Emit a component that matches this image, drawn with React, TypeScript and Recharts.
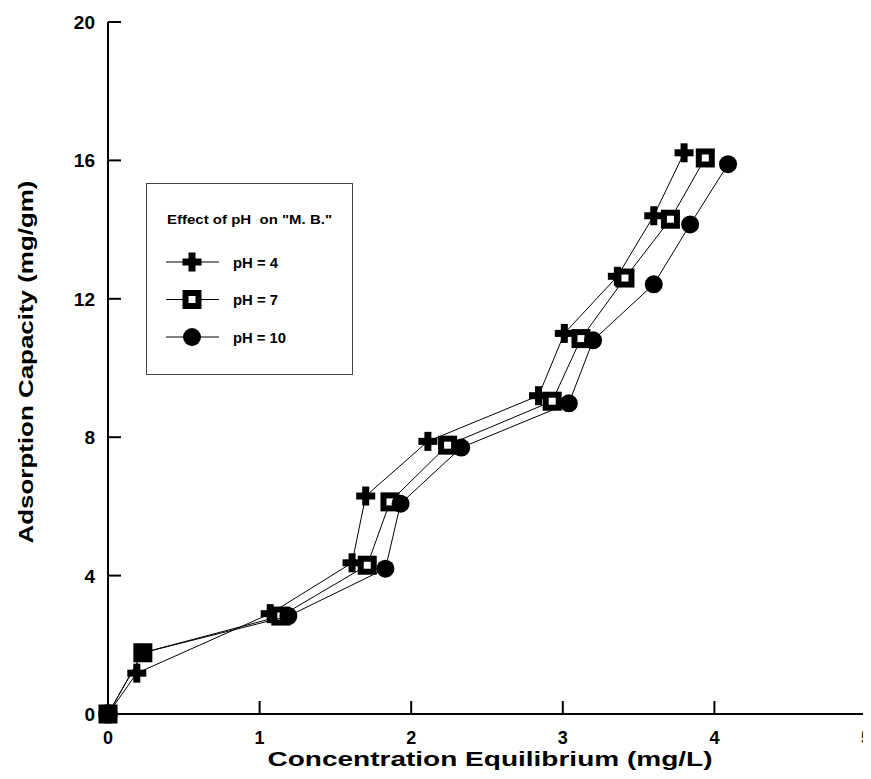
import React from "react";
import { ComposedChart, Scatter, XAxis, YAxis, Label } from "recharts";

// pH = 4
const xPh4 = [0, 0.19, 1.07, 1.61, 1.7, 2.11, 2.84, 3.01, 3.36, 3.6, 3.8];
const yPh4 = [0, 1.18, 2.9, 4.37, 6.3, 7.88, 9.2, 11.0, 12.65, 14.4, 16.22];
// pH = 7
const xPh7 = [0, 0.23, 1.14, 1.71, 1.86, 2.24, 2.93, 3.12, 3.41, 3.71, 3.94];
const yPh7 = [0, 1.77, 2.83, 4.3, 6.13, 7.77, 9.04, 10.85, 12.6, 14.3, 16.07];
// pH = 10
const xPh10 = [0, 0.23, 1.19, 1.83, 1.93, 2.33, 3.04, 3.2, 3.6, 3.84, 4.09];
const yPh10 = [0, 1.77, 2.83, 4.2, 6.08, 7.7, 8.98, 10.8, 12.42, 14.15, 15.89];

const xTicks = [0, 1, 2, 3, 4, 5];
const yTicks = [0, 4, 8, 12, 16, 20];

const seriesNames = ["pH = 4", "pH = 7", "pH = 10"];
const legendTitle = 'Effect of pH\u00a0\u00a0on "M. B."';

const toPoints = (xs: number[], ys: number[]) => xs.map((x, i) => ({ x, y: ys[i] }));

const FONT = "Arial, 'Liberation Sans', sans-serif";

const Cross = ({ cx, cy }: any) => (
  <g>
    <rect x={cx - 9.5} y={cy - 3.5} width={19} height={7} fill="#000" />
    <rect x={cx - 3.5} y={cy - 9.5} width={7} height={19} fill="#000" />
  </g>
);

const Square = ({ cx, cy }: any) => (
  <rect x={cx - 6.5} y={cy - 6.5} width={13} height={13} fill="#fff" stroke="#000" strokeWidth={6} />
);

const Dot = ({ cx, cy }: any) => <ellipse cx={cx} cy={cy} rx={9} ry={9} fill="#000" />;

const XTick = ({ x, y, payload }: any) => (
  <g>
    <line x1={x} y1={y} x2={x} y2={y - 13} stroke="#000" strokeWidth={2} />
    <text x={x} y={y + 30} textAnchor="middle" fontFamily={FONT} fontWeight="bold" fontSize={18} fill="#000">
      {payload.value}
    </text>
  </g>
);

const YTick = ({ x, y, payload }: any) => (
  <g>
    <line x1={x} y1={y} x2={x + 13} y2={y} stroke="#000" strokeWidth={2} />
    <text x={x - 13} y={y + 7} textAnchor="end" fontFamily={FONT} fontWeight="bold" fontSize={19} fill="#000">
      {payload.value}
    </text>
  </g>
);

const LegendBox = () => {
  const markers = [Cross, Square, Dot];
  const widths = [45, 45, 53];
  return (
    <div
      style={{
        position: "absolute",
        left: 138,
        top: 175,
        width: 207,
        height: 192,
        border: "1.5px solid #444",
        boxSizing: "border-box",
        background: "#fff",
      }}
    >
      <svg width={205} height={190} style={{ display: "block" }}>
        <text
          x={20}
          y={40}
          fontFamily={FONT}
          fontWeight="bold"
          fontSize={13}
          fill="#000"
          textLength={165}
          lengthAdjust="spacingAndGlyphs"
        >
          {legendTitle}
        </text>
        {seriesNames.map((name, i) => {
          const cy = 78 + i * 37.5;
          const Marker = markers[i];
          return (
            <g key={name}>
              <line x1={19} y1={cy} x2={72} y2={cy} stroke="#000" strokeWidth={1} />
              <Marker cx={45} cy={cy} />
              <text
                x={86}
                y={cy + 5.5}
                fontFamily={FONT}
                fontWeight="bold"
                fontSize={14}
                fill="#000"
                textLength={widths[i]}
                lengthAdjust="spacingAndGlyphs"
              >
                {name}
              </text>
            </g>
          );
        })}
      </svg>
    </div>
  );
};

export default function App() {
  return (
    <div style={{ position: "relative", width: 863, height: 771 }}>
      <style>{`body{overflow:hidden} .recharts-surface, .recharts-wrapper{overflow:visible !important}`}</style>
      <ComposedChart width={863} height={771} margin={{ top: 14, right: 5, bottom: 0, left: 0 }}>
        <XAxis
          type="number"
          dataKey="x"
          domain={[0, 5]}
          ticks={xTicks}
          height={65}
          axisLine={{ stroke: "#000", strokeWidth: 2 }}
          tickLine={false}
          tickSize={0}
          tickMargin={0}
          tick={<XTick />}
        >
          <Label
            content={() => (
              <text
                x={482}
                y={758}
                textAnchor="middle"
                fontFamily={FONT}
                fontWeight="bold"
                fontSize={21}
                fill="#000"
                textLength={445}
                lengthAdjust="spacingAndGlyphs"
              >
                Concentration Equilibrium (mg/L)
              </text>
            )}
          />
        </XAxis>
        <YAxis
          type="number"
          dataKey="y"
          domain={[0, 20]}
          ticks={yTicks}
          width={100}
          axisLine={{ stroke: "#000", strokeWidth: 2 }}
          tickLine={false}
          tickSize={0}
          tickMargin={0}
          tick={<YTick />}
        >
          <Label
            content={() => (
              <text
                x={25}
                y={354}
                transform="rotate(-90, 25, 354)"
                textAnchor="middle"
                fontFamily={FONT}
                fontWeight="bold"
                fontSize={21}
                fill="#000"
                textLength={363}
                lengthAdjust="spacingAndGlyphs"
              >
                Adsorption Capacity (mg/gm)
              </text>
            )}
          />
        </YAxis>
        <Scatter
          name={seriesNames[0]}
          data={toPoints(xPh4, yPh4)}
          line={{ stroke: "#000", strokeWidth: 1 }}
          lineType="joint"
          shape={<Cross />}
          isAnimationActive={false}
        />
        <Scatter
          name={seriesNames[1]}
          data={toPoints(xPh7, yPh7)}
          line={{ stroke: "#000", strokeWidth: 1 }}
          lineType="joint"
          shape={<Square />}
          isAnimationActive={false}
        />
        <Scatter
          name={seriesNames[2]}
          data={toPoints(xPh10, yPh10)}
          line={{ stroke: "#000", strokeWidth: 1 }}
          lineType="joint"
          shape={<Dot />}
          isAnimationActive={false}
        />
      </ComposedChart>
      <LegendBox />
    </div>
  );
}
